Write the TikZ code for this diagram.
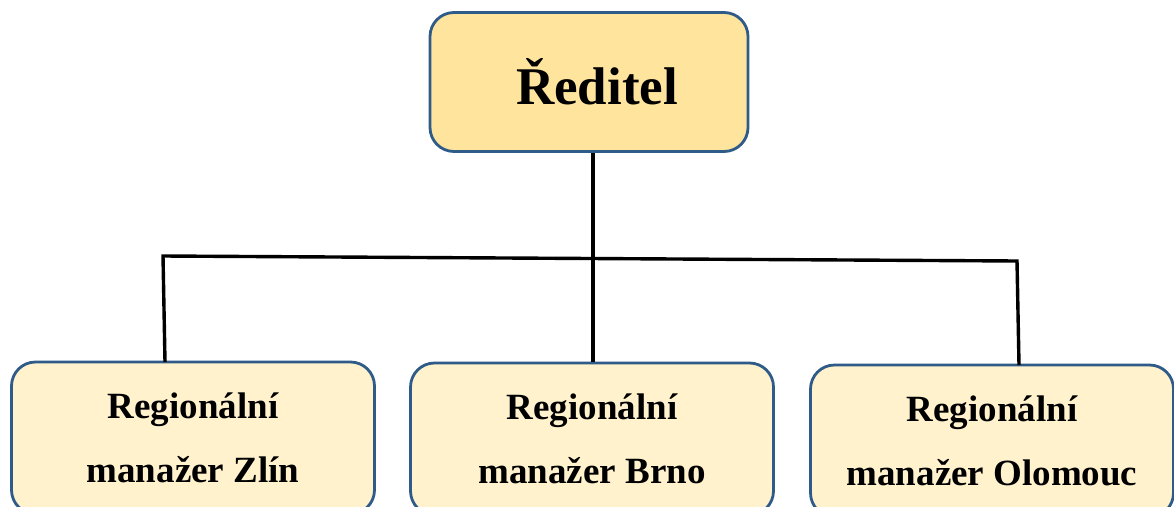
\documentclass[tikz,border=0pt]{standalone}
\usepackage{fontspec}
\setmainfont{Liberation Serif}
\definecolor{boxline}{HTML}{2F5B88}
\definecolor{topfill}{HTML}{FEE49C}
\definecolor{subfill}{HTML}{FFF2CD}
\tikzset{
  orgbox/.style={draw=boxline, line width=2.8pt, rounded corners=24pt, inner sep=0pt, align=center},
  headbox/.style={orgbox, fill=topfill, minimum width=318pt, minimum height=139pt,
                  font=\bfseries\fontsize{53}{60}\selectfont},
  unitbox/.style={orgbox, fill=subfill, minimum width=363pt, minimum height=152pt,
                  font=\bfseries\fontsize{37}{64}\selectfont},
  link/.style={line width=3.4pt, black}
}
\begin{document}
\begin{tikzpicture}[x=1pt, y=-1pt]
  \useasboundingbox (0,0) rectangle (1174,506);
  \clip (0,0) rectangle (1174,506);
  % head of the organisation
  \node[headbox] (head) at (589,82) {\hspace*{16pt}\raisebox{-7pt}{Ředitel}};
  % regional managers
  \node[unitbox] (zlin) at (193,438) {Regionální\\manažer Zlín};
  \node[unitbox] (brno) at (592,439) {Regionální\\manažer Brno};
  \node[unitbox] (olom) at (992,441) {Regionální\\manažer Olomouc};
  % junction points of the tree
  \coordinate (jmid) at (593,258);
  \coordinate (jl) at (163,256);
  \coordinate (jr) at (1017,261);
  \coordinate (zl) at (165,362);
  \coordinate (ol) at (1019,365);
  % connectors
  \draw[link] (head.south -| jmid) -- (brno.north -| jmid);
  \draw[link] (zl) -- (jl) -- (jr) -- (ol);
\end{tikzpicture}
\end{document}
